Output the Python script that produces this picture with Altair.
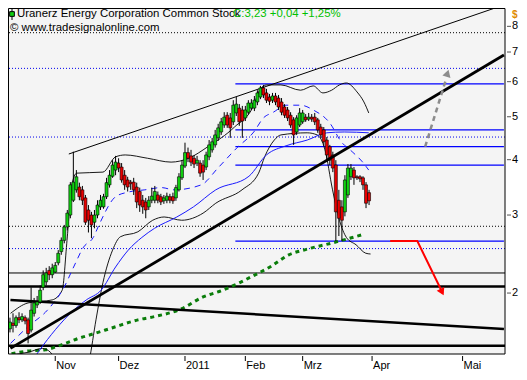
import altair as alt
import pandas as pd

# ---------------- data ----------------
bar_index = list(range(-15, 105))
opens = [1.66, 1.71, 1.69, 1.76, 1.74, 1.76, 1.74, 1.65, 1.80, 1.88, 1.91, 2.06, 2.12, 2.25, 2.20,
         2.23, 2.34, 2.48, 2.63, 2.82, 3.00, 3.24, 3.42, 3.47, 3.42, 3.28, 3.08, 3.00, 2.89, 3.00,
         3.13, 3.13, 3.30, 3.51, 3.67, 3.79, 3.93, 3.85, 3.69, 3.60, 3.56, 3.56, 3.47, 3.39, 3.24,
         3.21, 3.13, 3.24, 3.24, 3.33, 3.30, 3.23, 3.24, 3.30, 3.30, 3.28, 3.42, 3.64, 3.87, 4.15,
         4.08, 4.03, 3.93, 3.93, 3.89, 3.85, 4.06, 4.21, 4.32, 4.48, 4.62, 4.79, 5.04, 4.97, 4.87,
         5.10, 5.23, 5.18, 4.97, 5.12, 5.23, 5.23, 5.40, 5.54, 5.81, 5.66, 5.54, 5.45, 5.57, 5.51,
         5.40, 5.26, 5.18, 5.04, 4.92, 4.62, 4.79, 4.87, 4.99, 4.94, 4.99, 4.99, 4.92, 4.74, 4.67,
         4.43, 4.28, 4.10, 3.89, 3.24, 3.13, 3.05, 3.33, 3.66, 3.79, 3.66, 3.66, 3.64, 3.51, 3.37]
highs = [1.76, 1.80, 1.78, 1.81, 1.80, 1.78, 1.76, 2.06, 1.95, 1.97, 2.08, 2.25, 2.28, 2.30, 2.33,
         2.35, 2.50, 2.67, 2.85, 3.08, 3.56, 4.17, 3.79, 3.55, 3.49, 3.33, 3.16, 3.05, 3.08, 3.24,
         3.33, 3.35, 3.64, 3.79, 3.99, 4.08, 4.03, 3.93, 3.79, 3.66, 3.60, 3.64, 3.55, 3.46, 3.33,
         3.28, 3.31, 3.46, 3.49, 3.39, 3.35, 3.33, 3.37, 3.35, 3.37, 3.51, 3.73, 3.99, 4.37, 4.26,
         4.21, 4.10, 4.08, 3.99, 3.99, 4.17, 4.43, 4.48, 4.67, 4.82, 4.97, 5.12, 5.12, 5.10, 5.45,
         5.54, 5.34, 5.29, 5.29, 5.45, 5.48, 5.57, 5.74, 5.87, 5.90, 5.78, 5.63, 5.66, 5.66, 5.60,
         5.51, 5.34, 5.26, 5.12, 4.99, 5.04, 5.23, 5.18, 5.07, 5.10, 5.07, 5.10, 4.97, 4.82, 4.74,
         4.50, 4.32, 4.17, 3.99, 3.42, 3.24, 3.69, 3.91, 3.91, 3.85, 3.69, 3.69, 3.67, 3.56, 3.42]
lows = [1.63, 1.63, 1.67, 1.71, 1.72, 1.70, 1.54, 1.63, 1.77, 1.85, 1.89, 2.03, 2.08, 2.14, 2.16,
        2.22, 2.31, 2.44, 2.59, 2.77, 2.95, 3.21, 3.37, 3.24, 3.16, 2.85, 2.74, 2.66, 2.80, 2.95,
        3.08, 3.10, 3.26, 3.46, 3.64, 3.69, 3.75, 3.55, 3.42, 3.39, 3.42, 3.33, 3.11, 3.05, 3.02,
        2.95, 3.08, 3.19, 3.19, 3.19, 3.16, 3.18, 3.19, 3.19, 3.18, 3.23, 3.39, 3.60, 3.83, 3.95,
        3.87, 3.83, 3.87, 3.66, 3.60, 3.79, 3.99, 4.15, 4.26, 4.41, 4.55, 4.72, 4.72, 4.48, 4.79,
        5.02, 4.77, 4.48, 4.89, 5.07, 5.18, 5.15, 5.31, 5.48, 5.51, 5.37, 5.31, 5.37, 5.31, 5.18,
        5.04, 4.97, 4.89, 4.72, 4.32, 4.55, 4.74, 4.82, 4.87, 4.89, 4.87, 4.79, 4.60, 4.48, 4.30,
        3.99, 3.89, 3.75, 2.62, 2.69, 2.62, 2.98, 3.28, 3.60, 3.51, 3.60, 3.56, 3.42, 3.11, 3.16]
closes = [1.72, 1.69, 1.76, 1.74, 1.77, 1.73, 1.62, 1.83, 1.90, 1.91, 2.03, 2.20, 2.22, 2.20, 2.28,
          2.31, 2.46, 2.63, 2.82, 3.03, 3.51, 3.56, 3.66, 3.30, 3.24, 2.89, 2.92, 2.85, 3.00, 3.16,
          3.24, 3.30, 3.55, 3.69, 3.89, 3.95, 3.83, 3.60, 3.51, 3.47, 3.53, 3.42, 3.21, 3.16, 3.13,
          3.08, 3.24, 3.31, 3.39, 3.24, 3.21, 3.28, 3.31, 3.24, 3.23, 3.46, 3.66, 3.89, 4.15, 4.03,
          3.95, 3.91, 3.99, 3.73, 3.75, 4.10, 4.32, 4.39, 4.55, 4.72, 4.87, 4.99, 4.79, 4.72, 5.31,
          5.34, 4.87, 4.89, 5.18, 5.37, 5.37, 5.45, 5.66, 5.81, 5.60, 5.45, 5.42, 5.57, 5.40, 5.26,
          5.12, 5.04, 4.97, 4.79, 4.55, 4.97, 5.10, 5.10, 4.92, 4.99, 4.94, 4.87, 4.67, 4.55, 4.39,
          4.10, 3.99, 3.83, 3.05, 2.95, 2.92, 3.60, 3.83, 3.83, 3.64, 3.64, 3.62, 3.51, 3.19, 3.23]

month_ticks = [0, 21, 43, 63, 82, 105, 135]
month_labels = ["Nov", "Dez", "2011", "Feb", "Mrz", "Apr", "Mai"]
price_ticks = [2, 3, 4, 5, 6, 7, 8]

# long moving average (green dotted)
ma_long_i = [-14.5, -9, -3.2, 2.3, 7.7, 12.9, 19, 27.4, 32.9, 41.6, 49, 55.5, 65.2, 71.6, 77.4, 83.2, 91.3, 96.8, 102.6]
ma_long_v = [1.46, 1.48, 1.49, 1.53, 1.58, 1.62, 1.67, 1.74, 1.77, 1.84, 1.96, 2.03, 2.18, 2.30, 2.44, 2.51, 2.59, 2.65, 2.72]
# medium moving average (thin blue)
ma_mid_i = [-8.5, -2.6, 2.9, 6.1, 10.3, 15.2, 20, 24.2, 28.7, 32.9, 40.3, 45.8, 53.2, 64.2, 70, 76.5, 83.5, 90, 95.8, 103.9]
ma_mid_v = [1.38, 1.57, 1.74, 1.83, 1.93, 2.03, 2.29, 2.50, 2.67, 2.80, 2.97, 3.13, 3.42, 3.67, 4.10, 4.30, 4.43, 4.60, 4.62, 4.60]
# short moving average (blue dashed)
ma_short_i = [-14.8, -9, -2.6, 2.9, 6.1, 9.4, 12.6, 14.5, 20, 24.2, 29.7, 35.2, 39.4, 48.4, 53.9, 60.3, 65.8, 69,
              72.3, 76.5, 81.3, 85.5, 91, 94.8, 98.4, 101.6, 103.9]
ma_short_v = [1.54, 1.68, 1.83, 2.06, 2.29, 2.54, 2.67, 2.85, 3.30, 3.38, 3.42, 3.46, 3.42, 3.51, 3.83, 4.26, 4.62, 4.97,
              5.12, 5.31, 5.31, 5.18, 4.84, 4.39, 4.17, 3.97, 3.79]
# Bollinger bands (thin black)
bb_up_i = [-14.8, -9, -1, 2.3, 3.9, 5.5, 7.1, 15.8, 20, 23.2, 30.6, 38.4, 44.2, 50.6, 59.4, 65.8, 67.7, 70, 74.8,
           81.3, 85.5, 88.7, 91.6, 94.2, 96.5, 100, 102.3, 103.9]
bb_up_v = [1.80, 1.90, 1.93, 2.03, 2.63, 3.51, 3.73, 3.75, 4.06, 4.10, 4.03, 3.95, 4.03, 4.28, 4.74, 5.31, 5.74, 5.90,
           5.90, 5.74, 5.87, 5.66, 5.74, 5.90, 5.96, 5.69, 5.40, 5.10]
bb_lo_i = [-14.8, -9, -4.2, -1.6, 2.3, 8.7, 11.3, 13.5, 15.8, 19, 21.6, 27.4, 32.3, 36.1, 41.9, 49, 53.2, 61.9, 67.4,
           69.4, 72.6, 74.8, 83.5, 86.8, 89.4, 91.9, 94.2, 96.5, 99.7, 102.9, 104.5]
bb_lo_v = [1.45, 1.47, 1.50, 1.47, 1.31, 1.21, 1.41, 1.74, 2.11, 2.50, 2.68, 2.75, 2.92, 2.97, 2.92, 3.03, 3.19, 3.42,
           3.73, 4.06, 4.43, 4.55, 4.60, 4.55, 4.21, 3.42, 2.92, 2.67, 2.57, 2.46, 2.45]

# drawn levels / trendlines
dotted_black = [7.74, 2.83]
dotted_blue = [6.43, 4.50, 2.52, 1.43]
blue_levels = [5.93, 4.67, 4.28, 3.89, 2.62]
blue_levels_start, blue_levels_end = 59.7, 148.7
thin_black_levels = [2.22]
thick_black_levels = [2.07, 1.52]
trend_upper_i, trend_upper_v = [4.5, 148.7], [4.12, 8.94]
trend_up_i, trend_up_v = [-14.84, 148.7], [1.50, 6.89]
trend_down_i, trend_down_v = [-14.84, 148.7], [1.93, 1.66]
red_arrow_i, red_arrow_v = [111, 120, 128.4], [2.62, 2.62, 2.0]
red_head_i, red_head_v, red_head_angle = [128.2], [2.01], [154]
gray_arrow_i, gray_arrow_v = [122.6, 129.6], [4.28, 6.1]
gray_head_i, gray_head_v, gray_head_angle = [130.0], [6.27], [17]

X_DOMAIN = [-14.0, 147.4]
Y_DOMAIN = [1.457, 8.80]

W, H = 497, 346
FONT = "Liberation Sans"

# ---------------- chart ----------------
xsc = alt.Scale(domain=X_DOMAIN, nice=False, zero=False)
ysc = alt.Scale(type="log", domain=Y_DOMAIN, nice=False)


def X(f):
    return alt.X(f, type="quantitative", scale=xsc, axis=None)


def Y(f):
    return alt.Y(f, type="quantitative", scale=ysc, axis=None)


def ldf(xs, ys):
    return pd.DataFrame({"i": xs, "p": ys})


one = pd.DataFrame({"k": [1]})

candles = pd.DataFrame({"i": bar_index, "open": opens, "high": highs, "low": lows, "close": closes})
candles["dir"] = ["up" if c >= o else "down" for o, c in zip(opens, closes)]

# plot background and frame
bg = alt.Chart(one).mark_rect(fill="#f4f4f4", strokeWidth=0).encode(
    x=alt.value(0), x2=alt.value(W), y=alt.value(0), y2=alt.value(H))
frame = alt.Chart(one).mark_rect(fill="#f4f4f4", fillOpacity=0, stroke="black", strokeWidth=1).encode(
    x=alt.value(0.5), x2=alt.value(W), y=alt.value(0.5), y2=alt.value(H))

# axes drawn through the scales
xtick_df = pd.DataFrame({"i": month_ticks, "lab": month_labels})
ytick_df = pd.DataFrame({"p": price_ticks, "lab": [str(v) for v in price_ticks]})
x_ticks = alt.Chart(xtick_df).mark_rule(color="black", strokeWidth=1).encode(
    x=X("i"), y=alt.value(H + 2), y2=alt.value(H + 7))
x_labels = alt.Chart(xtick_df).mark_text(align="left", baseline="middle", dx=1, font=FONT, fontSize=11,
                                         color="black").encode(x=X("i"), y=alt.value(H + 12), text="lab:N")
y_ticks = alt.Chart(ytick_df).mark_rule(color="#555555", strokeWidth=1).encode(
    y=Y("p"), x=alt.value(W + 2), x2=alt.value(W + 6))
y_labels = alt.Chart(ytick_df).mark_text(align="left", baseline="middle", font=FONT, fontSize=11,
                                         color="black").encode(y=Y("p"), x=alt.value(W + 7), text="lab:N")

# horizontal dotted levels
dot_black = alt.Chart(pd.DataFrame({"p": dotted_black})).mark_rule(
    color="black", strokeWidth=1, strokeDash=[1, 2], clip=True).encode(y=Y("p"))
dot_blue = alt.Chart(pd.DataFrame({"p": dotted_blue})).mark_rule(
    color="#0000ee", strokeWidth=1, strokeDash=[1, 2], clip=True).encode(y=Y("p"))
thin_lv = alt.Chart(pd.DataFrame({"p": thin_black_levels})).mark_rule(
    color="black", strokeWidth=1, clip=True).encode(y=Y("p"))
thick_lv = alt.Chart(pd.DataFrame({"p": thick_black_levels})).mark_rule(
    color="black", strokeWidth=2.5, clip=True).encode(y=Y("p"))
blue_lv = alt.Chart(pd.DataFrame({"p": blue_levels, "x0": [blue_levels_start] * len(blue_levels),
                                  "x1": [blue_levels_end] * len(blue_levels)})).mark_rule(
    color="#0000ff", strokeWidth=1.3, clip=True).encode(x=X("x0"), x2="x1:Q", y=Y("p"))

# trendlines
tr_upper = alt.Chart(ldf(trend_upper_i, trend_upper_v)).mark_line(
    color="black", strokeWidth=1, clip=True).encode(x=X("i"), y=Y("p"))
tr_up = alt.Chart(ldf(trend_up_i, trend_up_v)).mark_line(
    color="black", strokeWidth=2.8, clip=True).encode(x=X("i"), y=Y("p"))
tr_down = alt.Chart(ldf(trend_down_i, trend_down_v)).mark_line(
    color="black", strokeWidth=2.5, clip=True).encode(x=X("i"), y=Y("p"))

# indicators
ma_long = alt.Chart(ldf(ma_long_i, ma_long_v)).mark_line(
    color="#0a7d0a", strokeWidth=3, strokeDash=[4, 4], clip=True, interpolate="monotone").encode(x=X("i"), y=Y("p"))
ma_mid = alt.Chart(ldf(ma_mid_i, ma_mid_v)).mark_line(
    color="#1a1aff", strokeWidth=1, clip=True, interpolate="monotone").encode(x=X("i"), y=Y("p"))
ma_short = alt.Chart(ldf(ma_short_i, ma_short_v)).mark_line(
    color="#1a1aff", strokeWidth=1, strokeDash=[6, 5], clip=True, interpolate="monotone").encode(x=X("i"), y=Y("p"))
bb_up = alt.Chart(ldf(bb_up_i, bb_up_v)).mark_line(
    color="black", strokeWidth=0.9, clip=True, interpolate="monotone").encode(x=X("i"), y=Y("p"))
bb_lo = alt.Chart(ldf(bb_lo_i, bb_lo_v)).mark_line(
    color="black", strokeWidth=0.9, clip=True, interpolate="monotone").encode(x=X("i"), y=Y("p"))

# candles
wicks = alt.Chart(candles).mark_rule(color="black", strokeWidth=1, clip=True).encode(
    x=X("i"), y=Y("low"), y2="high:Q")
bodies = alt.Chart(candles).mark_bar(size=3, stroke="black", strokeWidth=0.6, clip=True).encode(
    x=X("i"), y=Y("open"), y2="close:Q",
    color=alt.Color("dir:N", scale=alt.Scale(domain=["up", "down"], range=["#10d010", "#e80000"]), legend=None))

# arrows
red_line = alt.Chart(ldf(red_arrow_i, red_arrow_v)).mark_line(
    color="#ff0000", strokeWidth=2).encode(x=X("i"), y=Y("p"))
red_head = alt.Chart(pd.DataFrame({"i": red_head_i, "p": red_head_v, "a": red_head_angle})).mark_point(
    shape="triangle-up", filled=True, color="#ff0000", size=70, opacity=1).encode(
    x=X("i"), y=Y("p"), angle=alt.Angle("a:Q", scale=None))
gray_line = alt.Chart(ldf(gray_arrow_i, gray_arrow_v)).mark_line(
    color="#8c8c8c", strokeWidth=2.5, strokeDash=[5, 4]).encode(x=X("i"), y=Y("p"))
gray_head = alt.Chart(pd.DataFrame({"i": gray_head_i, "p": gray_head_v, "a": gray_head_angle})).mark_point(
    shape="triangle-up", filled=True, color="#8c8c8c", size=70, opacity=1).encode(
    x=X("i"), y=Y("p"), angle=alt.Angle("a:Q", scale=None))

# header texts (positions in plot pixels)
title_txt = alt.Chart(pd.DataFrame({"t": ["Uranerz Energy Corporation Common Stock"]})).mark_text(
    align="left", baseline="middle", font=FONT, fontSize=11.4, color="black").encode(
    text="t:N", x=alt.value(9), y=alt.value(6))
quote_txt = alt.Chart(pd.DataFrame({"t": ["C:3,23 +0,04 +1,25%"]})).mark_text(
    align="left", baseline="middle", font=FONT, fontSize=11.4, color="#00c000").encode(
    text="t:N", x=alt.value(225), y=alt.value(6))
copy_txt = alt.Chart(pd.DataFrame({"t": ["© www.tradesignalonline.com"]})).mark_text(
    align="left", baseline="middle", font=FONT, fontSize=11.4, color="black").encode(
    text="t:N", x=alt.value(2), y=alt.value(20))
dollar_txt = alt.Chart(pd.DataFrame({"t": ["$"]})).mark_text(
    align="left", baseline="middle", font=FONT, fontSize=10, color="#e08a00", fontWeight="bold").encode(
    text="t:N", x=alt.value(W + 7), y=alt.value(7))
icon_wick = alt.Chart(one).mark_rule(color="black", strokeWidth=1).encode(
    x=alt.value(4), y=alt.value(1), y2=alt.value(12))
icon_body = alt.Chart(one).mark_point(
    shape="square", filled=True, color="#10d010", stroke="black", strokeWidth=1, size=22, opacity=1).encode(
    x=alt.value(4), y=alt.value(6))

chart = alt.layer(
    bg,
    dot_black, dot_blue, thin_lv, thick_lv, blue_lv,
    ma_long, bb_up, bb_lo, ma_mid, ma_short,
    tr_upper, tr_down,
    wicks, bodies, tr_up,
    red_line, red_head, gray_line, gray_head,
    frame, x_ticks, x_labels, y_ticks, y_labels,
    title_txt, quote_txt, copy_txt, dollar_txt, icon_wick, icon_body,
).properties(
    width=W, height=H,
    autosize=alt.AutoSizeParams(type="none"),
    padding={"left": 0, "top": 0, "right": 14, "bottom": 18},
    background="white",
).configure_view(stroke=None)

chart.save("out.html", embed_options={"renderer": "svg", "actions": False})
